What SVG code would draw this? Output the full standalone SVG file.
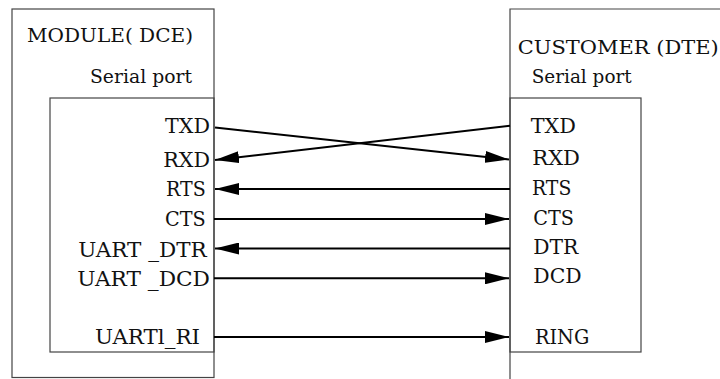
<svg xmlns="http://www.w3.org/2000/svg" width="720" height="379" viewBox="0 0 720 379">
<style>
.box{fill:none;stroke:#444;stroke-width:1.2}
text{font-family:'DejaVu Serif',serif;fill:#111}
.t{font-size:19.5px}
.h{font-size:19px}
.w{stroke:#000;stroke-width:2;fill:none;marker-end:url(#ah)}
</style>
<defs>
<marker id="ah" markerUnits="userSpaceOnUse" markerWidth="24" markerHeight="12" refX="24" refY="6" orient="auto" viewBox="0 0 24 12">
<path d="M0,0 L24,6 L0,12 z" fill="#000"/>
</marker>
</defs>
<rect width="720" height="379" fill="#fff"/>
<g id="module">
<rect class="box" x="12" y="9" width="202" height="368.5"/>
<rect class="box" x="50" y="98" width="164" height="254"/>
<text class="h" x="27" y="42" textLength="166" lengthAdjust="spacingAndGlyphs">MODULE( DCE)</text>
<text class="h" x="90" y="83" textLength="102" lengthAdjust="spacingAndGlyphs">Serial port</text>
<text class="t" x="165" y="133.3" textLength="45" lengthAdjust="spacingAndGlyphs">TXD</text>
<text class="t" x="163.3" y="166.7" textLength="46.7" lengthAdjust="spacingAndGlyphs">RXD</text>
<text class="t" x="166" y="195.7" textLength="39.7" lengthAdjust="spacingAndGlyphs">RTS</text>
<text class="t" x="165" y="226" textLength="40.7" lengthAdjust="spacingAndGlyphs">CTS</text>
<text class="t" x="78.3" y="256.7" textLength="128.4" lengthAdjust="spacingAndGlyphs">UART _DTR</text>
<text class="t" x="77.3" y="285.7" textLength="132.7" lengthAdjust="spacingAndGlyphs">UART _DCD</text>
<text class="t" x="95" y="344.3" textLength="105" lengthAdjust="spacingAndGlyphs">UARTl_RI</text>
</g>
<g id="customer">
<path class="box" d="M722,9 H510 V381"/>
<rect class="box" x="510" y="98" width="131" height="254"/>
<text class="h" x="517.7" y="54" textLength="201" lengthAdjust="spacingAndGlyphs">CUSTOMER (DTE)</text>
<text class="h" x="531.7" y="83" textLength="100" lengthAdjust="spacingAndGlyphs">Serial port</text>
<text class="t" x="530.7" y="133.3" textLength="45.3" lengthAdjust="spacingAndGlyphs">TXD</text>
<text class="t" x="532.3" y="165" textLength="47.7" lengthAdjust="spacingAndGlyphs">RXD</text>
<text class="t" x="532" y="195" textLength="39.3" lengthAdjust="spacingAndGlyphs">RTS</text>
<text class="t" x="533.3" y="225" textLength="40.7" lengthAdjust="spacingAndGlyphs">CTS</text>
<text class="t" x="533.3" y="254" textLength="45" lengthAdjust="spacingAndGlyphs">DTR</text>
<text class="t" x="533.3" y="283.3" textLength="48.3" lengthAdjust="spacingAndGlyphs">DCD</text>
<text class="t" x="535" y="344" textLength="54.3" lengthAdjust="spacingAndGlyphs">RING</text>
</g>
<g id="connectors">
<line class="w" x1="215" y1="127.5" x2="509" y2="159.5"/>
<line class="w" x1="510" y1="125.7" x2="215" y2="160"/>
<line class="w" x1="510" y1="189" x2="215" y2="189"/>
<line class="w" x1="214" y1="219" x2="509" y2="219"/>
<line class="w" x1="510" y1="248.5" x2="215" y2="248.5"/>
<line class="w" x1="214" y1="278.3" x2="509" y2="278.3"/>
<line class="w" x1="214" y1="337" x2="509" y2="337"/>
</g>
</svg>
